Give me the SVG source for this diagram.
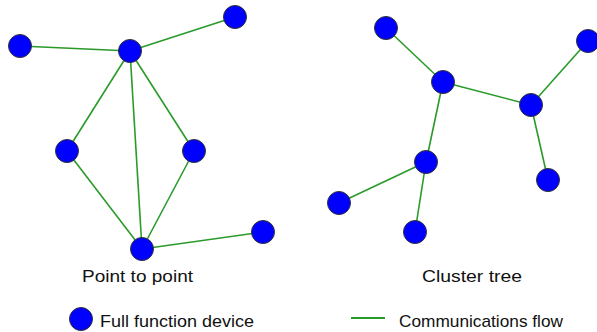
<svg xmlns="http://www.w3.org/2000/svg" width="597" height="332" viewBox="0 0 597 332">
<style>
.n{fill:#0000ff;stroke:#333;stroke-width:1}
.e{stroke:#2a9a2a;stroke-width:1.6;fill:none}
.t{font-family:"Liberation Sans",Arial,sans-serif;font-size:17px;fill:#111}
</style>
<rect width="597" height="332" fill="#fff"/>
<g id="connectors" class="e">
<line x1="20" y1="46" x2="130" y2="51"/>
<line x1="130" y1="51" x2="235" y2="17"/>
<line x1="130" y1="51" x2="67" y2="151"/>
<line x1="130" y1="51" x2="194" y2="151"/>
<line x1="130" y1="51" x2="142" y2="249"/>
<line x1="67" y1="151" x2="142" y2="249"/>
<line x1="194" y1="151" x2="142" y2="249"/>
<line x1="142" y1="249" x2="263" y2="232"/>
<line x1="386" y1="28" x2="443" y2="82"/>
<line x1="443" y1="82" x2="531" y2="105"/>
<line x1="531" y1="105" x2="588" y2="41"/>
<line x1="531" y1="105" x2="548" y2="180"/>
<line x1="443" y1="82" x2="426" y2="162"/>
<line x1="426" y1="162" x2="339" y2="203"/>
<line x1="426" y1="162" x2="415" y2="232"/>
</g>
<g id="p2p-a"><circle class="n" cx="20" cy="46" r="11.5"/></g>
<g id="p2p-hub"><circle class="n" cx="130" cy="51" r="11.5"/></g>
<g id="p2p-c"><circle class="n" cx="235" cy="17" r="11.5"/></g>
<g id="p2p-d"><circle class="n" cx="67" cy="151" r="11.5"/></g>
<g id="p2p-e"><circle class="n" cx="194" cy="151" r="11.5"/></g>
<g id="p2p-f"><circle class="n" cx="142" cy="249" r="11.5"/></g>
<g id="p2p-g"><circle class="n" cx="263" cy="232" r="11.5"/></g>
<g id="ct-h"><circle class="n" cx="386" cy="28" r="11.5"/></g>
<g id="ct-i"><circle class="n" cx="443" cy="82" r="11.5"/></g>
<g id="ct-j"><circle class="n" cx="588" cy="41" r="11.5"/></g>
<g id="ct-k"><circle class="n" cx="531" cy="105" r="11.5"/></g>
<g id="ct-l"><circle class="n" cx="548" cy="180" r="11.5"/></g>
<g id="ct-m"><circle class="n" cx="426" cy="162" r="11.5"/></g>
<g id="ct-n"><circle class="n" cx="339" cy="203" r="11.5"/></g>
<g id="ct-o"><circle class="n" cx="415" cy="232" r="11.5"/></g>
<g id="labels">
<text class="t" x="82" y="282" textLength="111" lengthAdjust="spacingAndGlyphs">Point to point</text>
<text class="t" x="422" y="282" textLength="100" lengthAdjust="spacingAndGlyphs">Cluster tree</text>
</g>
<g id="legend">
<circle class="n" cx="81" cy="319" r="11.5"/>
<text class="t" x="100" y="327" textLength="154" lengthAdjust="spacingAndGlyphs">Full function device</text>
<line x1="351" y1="318" x2="385" y2="318" stroke="#2a9a2a" stroke-width="2"/>
<text class="t" x="399" y="327" textLength="164" lengthAdjust="spacingAndGlyphs">Communications flow</text>
</g>
</svg>
